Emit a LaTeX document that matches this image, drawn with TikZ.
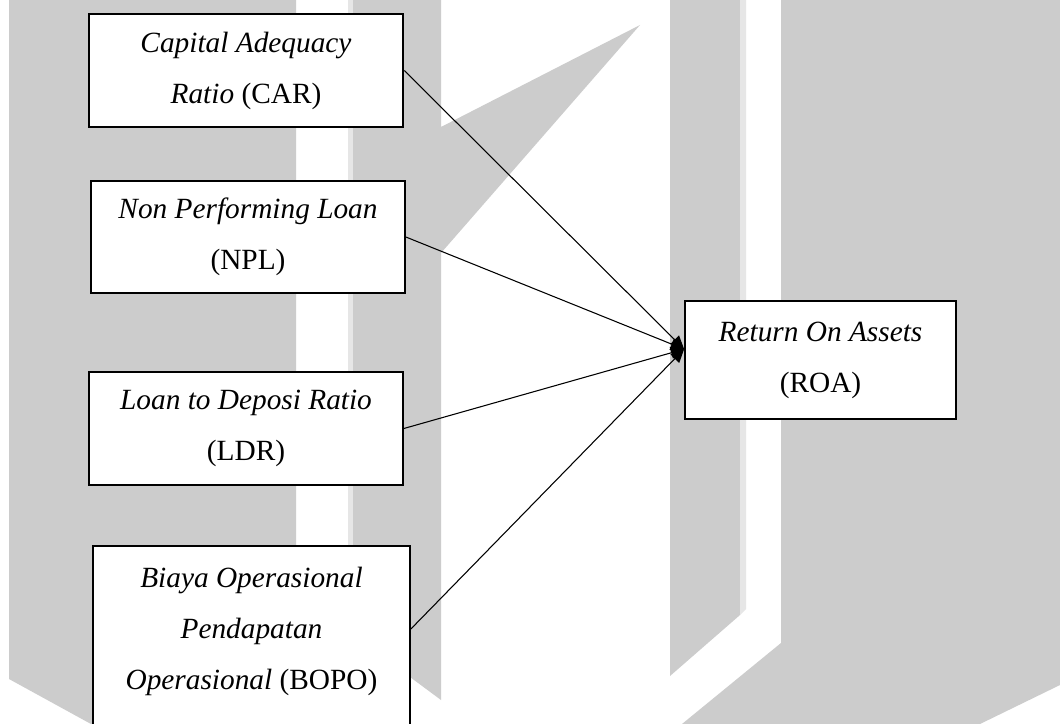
\documentclass[tikz,border=0pt]{standalone}
\usepackage{fontspec}
\setmainfont{Liberation Serif}
\usetikzlibrary{arrows.meta,calc}
\definecolor{wm}{HTML}{CCCCCC}
\definecolor{wmlight}{HTML}{E6E6E6}
\begin{document}
\begin{tikzpicture}[x=0.75pt,y=-0.75pt,
  box/.style={draw=black,fill=white,line width=1.3pt,align=center,inner sep=0pt,
    font=\fontsize{22}{38.25}\selectfont},
  link/.style={line width=0.8pt,-{Triangle[length=10pt,width=9pt]}}]
\useasboundingbox (0,0) rectangle (1060,724);
\clip (0,0) rectangle (1060,724);
\fill[white] (0,0) rectangle (1060,724);
% watermark
\fill[wm] (9,0) -- (296,0) -- (296,724) -- (91,724) -- (9,679) -- cycle;
\fill[wmlight] (348,0) rectangle (353,600);
\fill[wm] (353,0) -- (441,0) -- (441,127) -- (640,25) -- (441,253) -- (441,700) -- (410,677) -- (353,640) -- cycle;
\fill[wm] (670,0) -- (740,0) -- (740,615) -- (670,676) -- cycle;
\fill[wmlight] (740,0) -- (746,0) -- (746,609) -- (740,615) -- cycle;
\fill[wm] (781,0) -- (1060,0) -- (1060,685) -- (980,724) -- (682,724) -- (781,643) -- cycle;
% boxes
\node[box,line width=1.9pt,minimum width=235.5pt,minimum height=84.75pt] (car) at (246,70.5)
  {\textit{Capital Adequacy}\\\textit{Ratio} (CAR)};
\node[box,minimum width=235.5pt,minimum height=84pt] (npl) at (248,237)
  {\textit{Non Performing Loan}\\(NPL)};
\node[box,minimum width=235.5pt,minimum height=84.75pt] (ldr) at (246,428.5)
  {\textit{Loan to Deposi Ratio}\\(LDR)};
\node[box,anchor=north,minimum width=237.75pt,minimum height=161.25pt] (bopo) at (251.5,545)
  {\textit{Biaya Operasional}\\\textit{Pendapatan}\\\textit{Operasional} (BOPO)\\\mbox{}};
\node[box,minimum width=203.25pt,minimum height=88.5pt] (roa) at (820.5,360)
  {\textit{Return On Assets}\\(ROA)};
% connectors
\coordinate (tgt) at ($(roa.north west)+(0,49)$);
\coordinate (bopoout) at ($(bopo.north east)+(0,84)$);
\draw[link] (car.east) -- (tgt);
\draw[link] (npl.east) -- (tgt);
\draw[link] (ldr.east) -- (tgt);
\draw[link] (bopoout) -- (tgt);
\end{tikzpicture}
\end{document}
